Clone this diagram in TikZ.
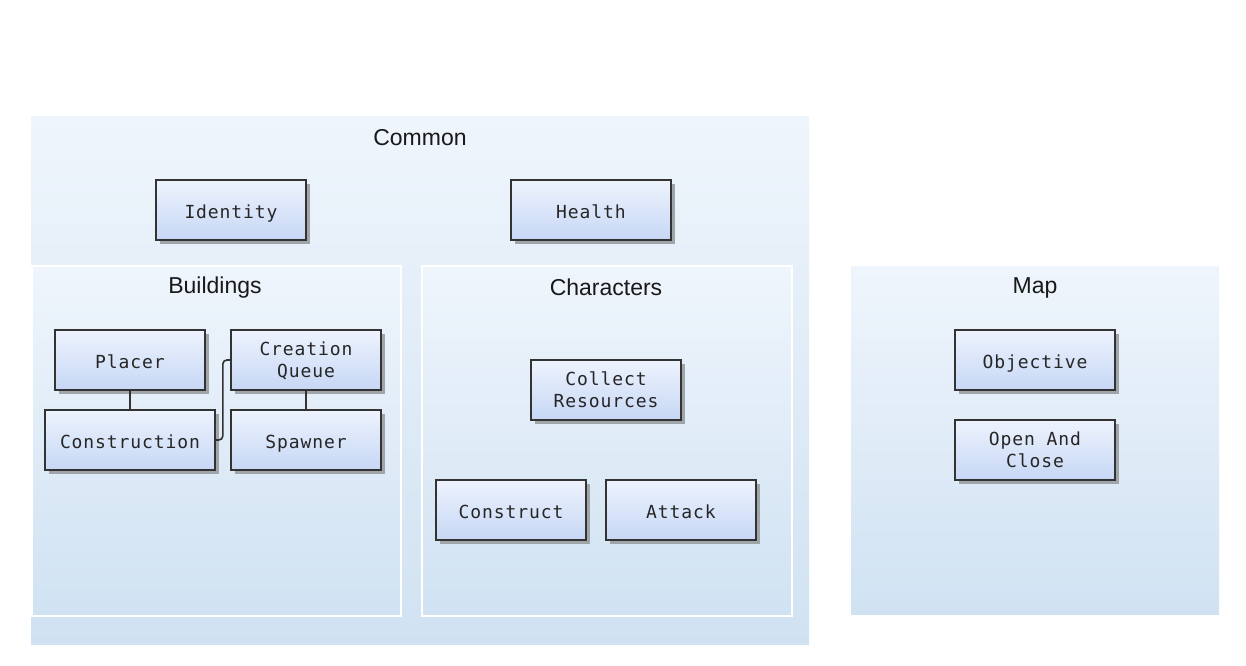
\documentclass[tikz,border=0pt]{standalone}
\usepackage{fontspec}
\setmainfont{Liberation Sans}
\newfontfamily\unitfont[LetterSpace=5]{DejaVu Sans Mono}
\usetikzlibrary{shadows}

\definecolor{grouptop}{HTML}{EFF5FC}
\definecolor{groupbottom}{HTML}{D0E2F2}
\definecolor{unittop}{HTML}{EEF3FD}
\definecolor{unitbottom}{HTML}{C6D7F5}
\definecolor{unitline}{HTML}{333333}
\definecolor{unitshadow}{HTML}{A0A5AA}

\tikzset{
    group/.style={top color=grouptop, bottom color=groupbottom, anchor=north west, inner sep=0pt},
    title/.style={font=\fontsize{23}{27}\selectfont, text=black!90},
    unit/.style={draw=unitline, line width=1.6pt, top color=unittop, bottom color=unitbottom,
        minimum height=60pt, align=center, text=black!85, font=\unitfont\fontsize{18}{22}\selectfont,
        execute at begin node={\rule{0pt}{22pt}}, execute at end node={\rule[-4.3pt]{0pt}{4.3pt}},
        drop shadow={shadow xshift=4pt, shadow yshift=-4pt, fill=unitshadow, opacity=1}},
    twoline/.style={text depth=-8.4pt},
    link/.style={draw=unitline, line width=1.6pt}
}

\begin{document}
\begin{tikzpicture}[x=1pt, y=-1pt]
    \useasboundingbox (0,0) rectangle (1246,665);
    % Groups
    \node[group, minimum width=778pt, minimum height=528pt] (common) at (31,116) {};
    \node[group, draw=white, line width=1.5pt, minimum width=369pt, minimum height=350pt] (buildings) at (31,265) {};
    \node[group, draw=white, line width=1.5pt, minimum width=370pt, minimum height=350pt] (characters) at (421,265) {};
    \node[group, minimum width=368pt, minimum height=348pt] (map) at (851,266) {};
    % Titles
    \foreach \name/\x/\y in {Common/420/138, Buildings/215/288, Characters/606/287, Map/1035/288} {
        \node[title] (title-\name) at (\x,\y) {\name};
    }
    % Common
    \foreach \n/\name/\w/\x/\y in {identity/Identity/150/231/210, health/Health/160/591/210} {
        \node[unit, minimum width=\w pt] (\n) at (\x,\y) {\name};
    }
    % Buildings
    \node[unit, minimum width=150pt] (placer) at (130,360) {Placer};
    \node[unit, twoline, minimum width=150pt] (queue) at (306,360) {Creation\\Queue};
    \node[unit, minimum width=170pt] (construction) at (130,440) {Construction};
    \node[unit, minimum width=150pt] (spawner) at (306,440) {Spawner};
    % Characters
    \node[unit, twoline, minimum width=150pt] (collect) at (606,390) {Collect\\Resources};
    \foreach \n/\name/\x in {construct/Construct/511, attack/Attack/681} {
        \node[unit, minimum width=150pt] (\n) at (\x,510) {\name};
    }
    % Map
    \node[unit, minimum width=160pt] (objective) at (1035,360) {Objective};
    \node[unit, twoline, minimum width=160pt] (openclose) at (1035,450) {Open And\\Close};
    % Links
    \draw[link] (placer) -- (construction);
    \draw[link] (queue) -- (spawner);
    \draw[link, rounded corners=4pt] (construction.east) -- ++(7,0) |- (queue.west);
\end{tikzpicture}
\end{document}
